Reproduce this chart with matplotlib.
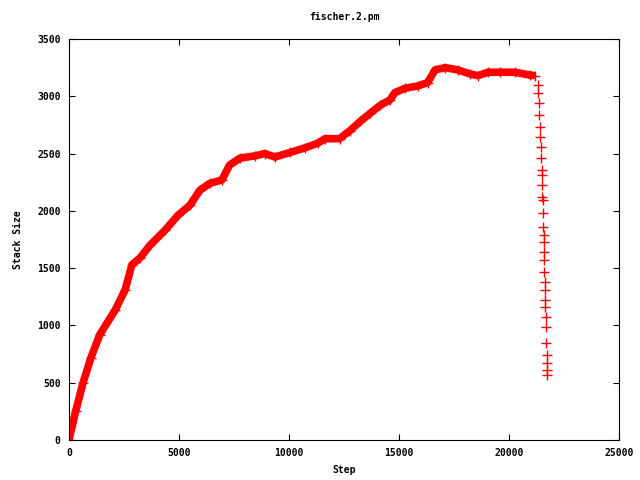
import matplotlib
matplotlib.use("Agg")
import matplotlib.pyplot as plt

# values (step, stack size)
step = [0, 300, 640, 1000, 1400, 2100, 2550, 2860, 3230, 3680, 4360, 4950,
        5500, 5950, 6400, 6950, 7300, 7770, 8450, 8900, 9360, 10050, 10730,
        11300, 11640, 12300, 12770, 13230, 13680, 14140, 14600, 14800, 15270,
        15860, 16300, 16640, 17100, 17680, 18230, 18590, 19050, 19600, 20270,
        20950, 21180]
stack = [0, 250, 500, 720, 920, 1135, 1310, 1530, 1590, 1700, 1830, 1960,
         2050, 2180, 2240, 2270, 2400, 2460, 2480, 2500, 2470, 2510, 2550,
         2590, 2630, 2630, 2700, 2780, 2850, 2920, 2970, 3030, 3070,
         3090, 3120, 3230, 3250, 3230, 3195, 3180, 3210, 3210, 3210,
         3185, 3180]

# the sparse tail where the stack empties
drop_step = [21320, 21340, 21360, 21380, 21400, 21420, 21440, 21460, 21480,
             21490, 21500, 21520, 21530, 21545, 21560, 21570, 21580, 21590,
             21600, 21610, 21620, 21630, 21640, 21650, 21660, 21680, 21700,
             21710, 21720, 21725, 21730]
drop_stack = [3100, 3030, 2940, 2840, 2730, 2645, 2560, 2460, 2360, 2310,
              2225, 2120, 2095, 1980, 1860, 1790, 1730, 1640, 1570, 1465,
              1380, 1310, 1220, 1160, 1075, 985, 845, 740, 670, 610, 570]

title = "fischer.2.pm"
font = {"family": "DejaVu Sans Mono", "weight": "bold", "size": 7}

fig = plt.figure(figsize=(6.4, 4.8), dpi=100)
ax = fig.add_axes([69 / 640, 40 / 480, 550 / 640, 401 / 480])

ax.plot(step, stack, color="#ff0000", lw=5.5, solid_capstyle="butt")
ax.plot(step + drop_step, stack + drop_stack, ls="none", marker="+",
        color="#ff0000", ms=7, mew=1)

ax.set_xlim(0, 25000)
ax.set_ylim(0, 3500)
ax.set_xticks(range(0, 25001, 5000))
ax.set_yticks(range(0, 3501, 500))
ax.tick_params(direction="in", length=4.5, width=0.8, top=True, right=True,
               pad=6)
for lab in ax.get_xticklabels() + ax.get_yticklabels():
    lab.set_fontproperties(font)
for s in ax.spines.values():
    s.set_linewidth(0.8)

ax.set_title(title, fontdict=font, pad=14)
ax.set_xlabel("Step", fontdict=font, labelpad=5)
ax.set_ylabel("Stack Size", fontdict=font, labelpad=10)

fig.savefig("out.png", dpi=100)
